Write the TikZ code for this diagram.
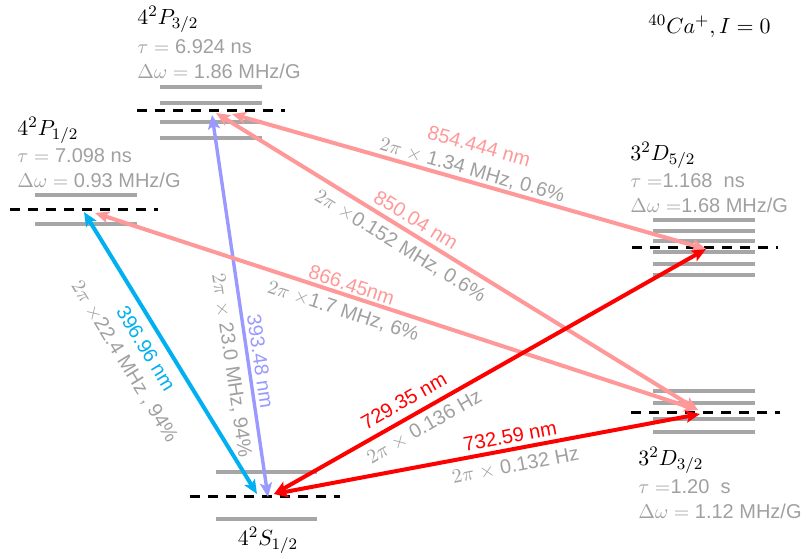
\documentclass[tikz,border=0pt]{standalone}
\usepackage{fontspec}
\setmainfont{Liberation Sans}
\usetikzlibrary{arrows.meta,positioning}
\definecolor{cyanline}{RGB}{0,176,240}
\definecolor{violetline}{RGB}{153,153,255}
\definecolor{pinkline}{RGB}{255,153,153}
\definecolor{redline}{RGB}{255,0,0}
\definecolor{levelgray}{RGB}{166,166,166}
\definecolor{textgray}{RGB}{160,160,160}

\begin{document}
\begin{tikzpicture}[
  x=0.5pt, y=-0.5pt,
  font=\fontsize{10}{12.25}\selectfont,
  level/.style={levelgray, line width=1.7pt},
  ref/.style={black, line width=1.5pt, dash pattern=on 5pt off 4pt},
  trans/.style={<->, line width=2pt},
  wl/.style={sloped, inner sep=0pt},
  rate/.style={sloped, inner sep=0pt, text=textgray},
  info/.style={align=left, anchor=base west, inner sep=0pt, text=textgray},
  statename/.style={text=black, font=\fontsize{11}{12.25}\selectfont},
  >={Stealth[length=7pt, width=6pt, inset=1.5pt]}]
\useasboundingbox (0,0) rectangle (808,558);

\draw[level] (35,195) -- (137,195);
\draw[ref] (10,209) -- (158,209);
\draw[level] (35,224) -- (137,224);

\foreach \y in {87,103,122,138} \draw[level] (160,\y) -- (262,\y);
\draw[ref] (137,110) -- (285,110);

\foreach \y in {220,231,241,252,264,275} \draw[level] (653,\y) -- (755,\y);
\draw[ref] (632,247) -- (778,247);

\foreach \y in {391,403,419,432} \draw[level] (653,\y) -- (755,\y);
\draw[ref] (631,412) -- (780,412);

\draw[level] (216,472) -- (317,472);
\draw[ref] (190,496) -- (340,496);
\draw[level] (216,519) -- (317,519);

\node[info] (p12) at (17,187)
  {{\fontsize{11}{12.25}\selectfont\color{black}$4^2P_{1/2}$}\\[1.25pt]
   $\tau = $ 7.098 ns\\ $\Delta\omega = $ 0.93 MHz/G};
\node[info] (p32) at (137,78)
  {{\fontsize{11}{12.25}\selectfont\color{black}$4^2P_{3/2}$}\\[2.5pt]
   $\tau = $ 6.924 ns\\ $\Delta\omega = $ 1.86 MHz/G};
\node[info] (d52) at (630,212)
  {{\fontsize{11}{12.25}\selectfont\color{black}$3^2D_{5/2}$}\\[1.25pt]
   $\tau =$1.168\ \ ns\\ $\Delta\omega =$1.68 MHz/G};
\node[info] (d32) at (638,518)
  {{\fontsize{11}{12.25}\selectfont\color{black}$3^2D_{3/2}$}\\[1.75pt]
   $\tau =$1.20\ \ s\\ $\Delta\omega = $ 1.12 MHz/G};
\node[statename, anchor=base, inner sep=0pt] (s12) at (268,545) {$4^2S_{1/2}$};
\node[statename, anchor=base west, inner sep=0pt] (ion) at (648,33) {${}^{40}Ca^{+}, I = 0$};

\coordinate (p12a) at (84,212);
\coordinate (p12b) at (95,213);
\coordinate (p32a) at (212,115);
\coordinate (p32b) at (216,113);
\coordinate (p32c) at (232,114);
\coordinate (d52a) at (706,249);
\coordinate (d32a) at (698,410);
\coordinate (d32b) at (700,414);
\coordinate (s12a) at (257,494);
\coordinate (s12b) at (268,497);
\coordinate (s12c) at (274,494);

\draw[trans, cyanline] (p12a) --
  node[wl, pos=0.45, below=4.7pt] {396.96 nm}
  node[rate, pos=0.45, below=17pt] {$2\pi$ $\times$22.4 MHz , 94\%} (s12a);
\draw[trans, violetline, line width=1.7pt] (p32a) --
  node[wl, pos=0.65, above=1.7pt] {393.48 nm}
  node[rate, pos=0.65, below=3.7pt] {$2\pi$ $\times$ 23.0 MHz, 94\%} (s12b);
\draw[trans, pinkline] (p32c) --
  node[wl, pos=0.5, above=14pt] {854.444 nm}
  node[rate, pos=0.5, above=0.5pt] {$2\pi$ $\times$ 1.34 MHz, 0.6\%} (d52a);
\draw[trans, pinkline] (p32b) --
  node[wl, pos=0.4, above=2.4pt] {850.04 nm}
  node[rate, pos=0.4, below=3.3pt] {$2\pi$ $\times$0.152 MHz, 0.6\%} (d32a);
\draw[trans, pinkline] (p12b) --
  node[wl, pos=0.42, above=1pt] {866.45nm}
  node[rate, pos=0.42, below=3.1pt] {$2\pi$ $\times$1.7 MHz, 6\%} (d32a);
\draw[trans, redline] (s12c) --
  node[wl, pos=0.32, above=4pt] {729.35 nm}
  node[rate, pos=0.33, below=3pt] {$2\pi$ $\times$ 0.136 Hz} (d52a);
\draw[trans, redline] (s12c) --
  node[wl, pos=0.56, above=2.2pt] {732.59 nm}
  node[rate, pos=0.56, below=3.4pt] {$2\pi$ $\times$ 0.132 Hz} (d32b);
\end{tikzpicture}
\end{document}
